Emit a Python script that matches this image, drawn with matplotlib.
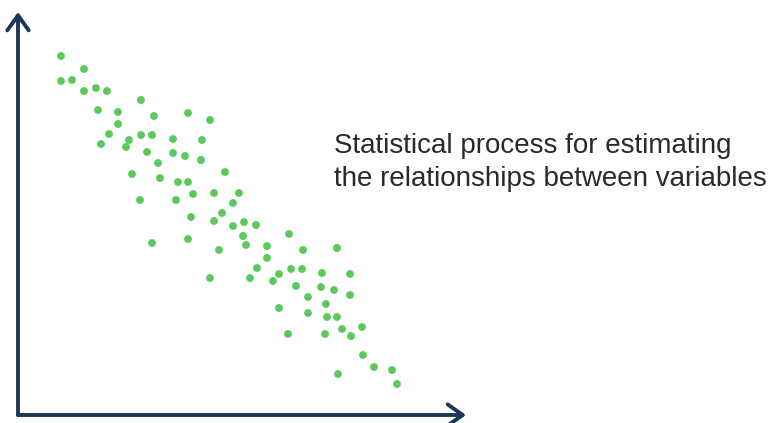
import matplotlib
matplotlib.use("Agg")
import matplotlib.pyplot as plt

# scatter points (x to the right, y up from the axis origin)
xs = [43, 66, 43, 54, 66, 78, 89, 123, 80, 100, 136, 170, 192, 100, 91, 83,
      111, 108, 123, 134, 129, 155, 184, 155, 167, 183, 140, 114, 142, 160, 170,
      207, 175, 196, 221, 122, 158, 215, 204, 173, 196, 215, 226, 238, 225, 228,
      249, 271, 134, 170, 201, 249, 239, 273, 261, 255, 192, 232, 285, 319, 284,
      304, 332, 278, 303, 316, 332, 290, 308, 261, 290, 309, 319, 324, 344, 333,
      270, 307, 345, 356, 374, 320, 379]
ys = [359, 346, 334, 335, 324, 327, 324, 315, 305, 303, 299, 302, 295, 291, 281,
      271, 275, 268, 280, 280, 263, 276, 275, 262, 259, 255, 252, 241, 237, 233,
      233, 243, 221, 222, 222, 215, 215, 212, 202, 198, 194, 189, 193, 190, 179,
      170, 169, 181, 172, 176, 165, 157, 147, 146, 141, 134, 137, 137, 165, 167,
      146, 142, 141, 129, 128, 125, 120, 118, 111, 107, 102, 98, 98, 86, 88, 79,
      81, 81, 60, 48, 45, 41, 31]

caption = ["Statistical process for estimating",
           "the relationships between variables"]

W, H = 771, 423
fig = plt.figure(figsize=(W / 100, H / 100), dpi=100)
fig.patch.set_facecolor("white")

# axes box spans from the origin to the arrow tips
x0, y0 = 18, 415
x1, y1 = 466, 12
ax = fig.add_axes([x0 / W, (H - y0) / H, (x1 - x0) / W, (y0 - y1) / H])
ax.set_xlim(0, x1 - x0)
ax.set_ylim(0, y0 - y1)
ax.axis("off")

ax.scatter(xs, ys, s=32, color="#5cc95c", edgecolors="none", zorder=3,
           clip_on=False)

axis_color = "#1c3657"
arrow = dict(arrowstyle="->,head_length=0.45,head_width=0.32",
             color=axis_color, lw=2.8, mutation_scale=24,
             shrinkA=0, shrinkB=0)
ax.annotate("", xy=(0, 1), xytext=(0, 0), xycoords="axes fraction",
            arrowprops=arrow)
ax.annotate("", xy=(1, 0), xytext=(0, 0), xycoords="axes fraction",
            arrowprops=arrow)

# caption on the right
for i, line in enumerate(caption):
    fig.text(334 / W, 1 - (153 + 33 * i) / H, line, color="#2a2a2a",
             fontsize=20, family="Liberation Sans", ha="left", va="baseline")

fig.savefig("out.png", dpi=100, facecolor="white")
